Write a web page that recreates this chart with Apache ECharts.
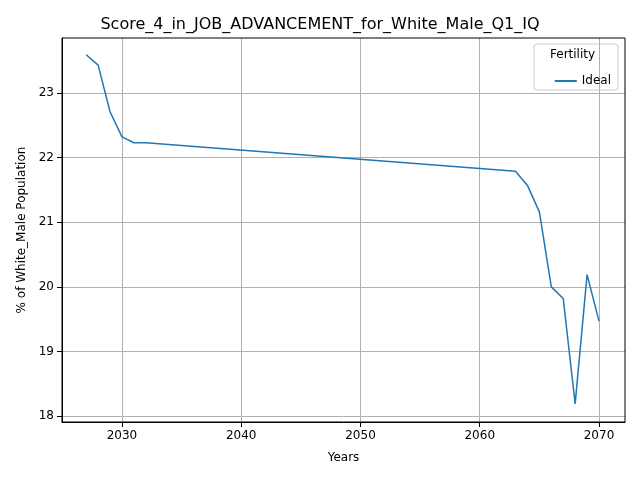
<!DOCTYPE html>
<html><head><meta charset="utf-8">
<script src="https://cdn.jsdelivr.net/npm/echarts@6/dist/echarts.min.js"></script>
<style>html,body{margin:0;padding:0;background:#fff}#c{width:640px;height:480px}</style>
</head><body><div id="c"></div>
<script>
var years = [2027, 2028, 2029, 2030, 2031, 2032, 2063, 2064, 2065, 2066, 2067, 2068, 2069, 2070];
var ideal = [23.59, 23.43, 22.71, 22.32, 22.23, 22.23, 21.79, 21.57, 21.16, 20.0, 19.82, 18.19, 20.19, 19.47];
var xTicks = [2030, 2040, 2050, 2060, 2070];
var yTicks = [18, 19, 20, 21, 22, 23];

var font = 'DejaVu Sans';
var chart = echarts.init(document.getElementById('c'));
chart.setOption({
  animation: false,
  textStyle: { fontFamily: font },
  title: { text: 'Score_4_in_JOB_ADVANCEMENT_for_White_Male_Q1_IQ', left: 'center', top: 12,
    textStyle: { fontFamily: font, fontSize: 16, fontWeight: 'normal', color: '#000' } },
  grid: { left: 62, right: 15, top: 38, bottom: 58 },
  xAxis: {
    type: 'value', min: 2024.97, max: 2072.18, name: 'Years', nameLocation: 'middle', nameGap: 30,
    nameTextStyle: { color: '#000', fontSize: 12 },
    axisLine: { onZero: false, lineStyle: { color: '#000' } },
    axisTick: { show: true, customValues: xTicks, lineStyle: { color: '#000' } },
    axisLabel: { customValues: xTicks, color: '#000', fontSize: 12, formatter: function (v) { return String(v); } },
    splitLine: { show: true, lineStyle: { color: '#b0b0b0' } }
  },
  yAxis: {
    type: 'value', min: 17.91, max: 23.85, name: '% of White_Male Population', nameLocation: 'middle', nameGap: 34,
    nameTextStyle: { color: '#000', fontSize: 12 },
    axisLine: { show: true, lineStyle: { color: '#000' } },
    axisTick: { show: true, customValues: yTicks, lineStyle: { color: '#000' } },
    axisLabel: { customValues: yTicks, color: '#000', fontSize: 12 },
    splitLine: { show: true, lineStyle: { color: '#b0b0b0' } }
  },
  legend: {
    data: ['Ideal'], right: 24, top: 70, itemWidth: 22, itemHeight: 2, icon: 'rect', itemGap: 6,
    textStyle: { fontSize: 12, color: '#000' }
  },
  graphic: [
    { type: 'rect', shape: { x: 62, y: 38, width: 563, height: 384 },
      style: { fill: 'none', stroke: '#000', lineWidth: 1 }, z: 10, silent: true },
    { type: 'rect', shape: { x: 534, y: 44, width: 84, height: 46, r: 3 },
      style: { fill: '#fff', stroke: '#ccc', lineWidth: 1 }, z: 0 },
    { type: 'text', left: 550, top: 49, style: { text: 'Fertility', fontSize: 12, fontFamily: font, fill: '#000' } }
  ],
  series: [{
    name: 'Ideal', type: 'line', symbol: 'none', color: '#1f77b4', lineStyle: { width: 1.5 },
    data: years.map(function (y, i) { return [y, ideal[i]]; })
  }]
});
</script></body></html>
